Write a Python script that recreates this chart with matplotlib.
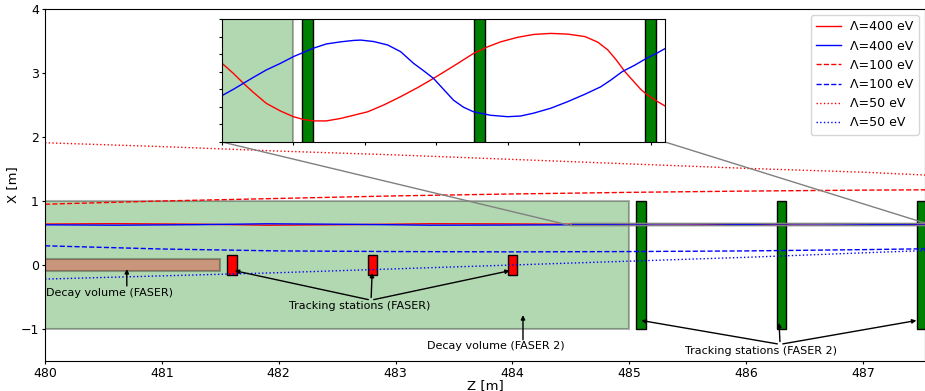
import numpy as np
import matplotlib
matplotlib.use("Agg")
import matplotlib.pyplot as plt
from matplotlib.patches import Rectangle

z_red_400 = [480.0, 480.6, 481.3, 481.9, 482.6, 483.3, 483.9,
             484.50, 484.58, 484.65, 484.72, 484.81, 484.91, 485.00, 485.07,
             485.14, 485.23, 485.33, 485.42, 485.52, 485.63, 485.75, 485.87,
             485.98, 486.12, 486.26, 486.36, 486.45, 486.57, 486.68, 486.80,
             486.92, 487.04, 487.13, 487.20, 487.26, 487.32, 487.39, 487.43,
             487.47, 487.54, 487.61]
x_red_400 = [0.640, 0.646, 0.638, 0.622, 0.630, 0.645, 0.643,
             0.6374, 0.6345, 0.6317, 0.6291, 0.6260, 0.6238, 0.6222, 0.6214,
             0.6210, 0.6210, 0.6217, 0.6226, 0.6236, 0.6255, 0.6279, 0.6305,
             0.6331, 0.6366, 0.6402, 0.6421, 0.6435, 0.6448, 0.6456, 0.6459,
             0.6457, 0.6450, 0.6434, 0.6412, 0.6383, 0.6350, 0.6318, 0.6300,
             0.6286, 0.6267, 0.6250]
z_blue_400 = [480.0, 480.6, 481.3, 481.9, 482.6, 483.3, 483.9,
              484.50, 484.58, 484.65, 484.72, 484.81, 484.91, 485.00, 485.07,
              485.14, 485.23, 485.33, 485.42, 485.47, 485.56, 485.66, 485.75,
              485.84, 485.91, 485.98, 486.05, 486.12, 486.19, 486.26, 486.38,
              486.50, 486.59, 486.68, 486.80, 486.92, 487.04, 487.15, 487.22,
              487.30, 487.39, 487.47, 487.54, 487.61]
x_blue_400 = [0.628, 0.622, 0.630, 0.644, 0.636, 0.622, 0.624,
              0.6282, 0.6300, 0.6317, 0.6334, 0.6355, 0.6374, 0.6393, 0.6405,
              0.6417, 0.6429, 0.6435, 0.6439, 0.6440, 0.6436, 0.6426, 0.6407,
              0.6374, 0.6353, 0.6331, 0.6300, 0.6269, 0.6249, 0.6236, 0.6226,
              0.6222, 0.6224, 0.6232, 0.6246, 0.6265, 0.6286, 0.6307, 0.6326,
              0.6350, 0.6369, 0.6388, 0.6402, 0.6418]

# dashed / dotted lines
z_other = [480.0, 481.0, 482.0, 483.0, 484.0, 485.0, 486.0, 487.0, 487.6]
x_red_100 = [0.95, 1.00, 1.04, 1.08, 1.11, 1.135, 1.155, 1.17, 1.175]
x_blue_100 = [0.30, 0.25, 0.22, 0.21, 0.205, 0.21, 0.22, 0.24, 0.255]
x_red_50 = [1.91, 1.85, 1.78, 1.72, 1.65, 1.58, 1.51, 1.45, 1.40]
x_blue_50 = [-0.22, -0.17, -0.12, -0.06, 0.0, 0.06, 0.12, 0.19, 0.23]

faser_stations = [481.6, 482.8, 484.0]
faser2_stations = [485.1, 486.3, 487.5]


def draw_detector(a):
    a.add_patch(Rectangle((480, -1), 5, 2, fc='green', ec='black', alpha=0.3, lw=1.5))
    a.add_patch(Rectangle((480, -0.1), 1.5, 0.2, fc='red', ec='black', alpha=0.3, lw=1.5))
    for s in faser_stations:
        a.add_patch(Rectangle((s - 0.04, -0.16), 0.08, 0.32, fc='red', ec='black', lw=1))
    for s in faser2_stations:
        a.add_patch(Rectangle((s - 0.04, -1), 0.08, 2, fc='green', ec='black', lw=1))


def draw_lines(a):
    a.plot(z_red_400, x_red_400, 'r-', lw=1, label='Λ=400 eV')
    a.plot(z_blue_400, x_blue_400, 'b-', lw=1, label='Λ=400 eV')
    a.plot(z_other, x_red_100, 'r--', lw=1, label='Λ=100 eV')
    a.plot(z_other, x_blue_100, 'b--', lw=1, label='Λ=100 eV')
    a.plot(z_other, x_red_50, 'r:', lw=1, label='Λ=50 eV')
    a.plot(z_other, x_blue_50, 'b:', lw=1, label='Λ=50 eV')


fig = plt.figure(figsize=(9.25, 3.91), dpi=100)
ax = fig.add_axes([45 / 925, 30 / 391, 880 / 925, 352 / 391])

draw_detector(ax)
draw_lines(ax)
ax.set_xlim(480, 487.53)
ax.set_ylim(-1.5, 4)
ax.tick_params(labelsize=9, length=2.5, pad=2)
ax.set_xlabel('Z [m]', fontsize=9.5, labelpad=-1)
ax.set_ylabel('X [m]', fontsize=9.5, labelpad=1)
ax.legend(loc='upper right', fontsize=9)

arrow = dict(arrowstyle='-|>', mutation_scale=6, lw=1, color='black')
fs = 8
ax.annotate('', xy=(480.7, -0.02), xytext=(480.7, -0.37), arrowprops=arrow)
ax.text(480.55, -0.44, 'Decay volume (FASER)', ha='center', va='center', fontsize=fs)

for s in faser_stations:
    ax.annotate('', xy=(s, -0.08), xytext=(482.79, -0.55), arrowprops=arrow)
ax.text(482.69, -0.64, 'Tracking stations (FASER)', ha='center', va='center', fontsize=fs)

ax.annotate('', xy=(484.09, -0.74), xytext=(484.09, -1.21), arrowprops=arrow)
ax.text(483.86, -1.26, 'Decay volume (FASER 2)', ha='center', va='center', fontsize=fs)

for s in faser2_stations:
    ax.annotate('', xy=(s - 0.02, -0.86), xytext=(486.29, -1.24), arrowprops=arrow)
ax.text(486.13, -1.35, 'Tracking stations (FASER 2)', ha='center', va='center', fontsize=fs)

# zoomed inset
axins = ax.inset_axes([177 / 880, 219 / 352, 443 / 880, 123 / 352])
draw_detector(axins)
draw_lines(axins)
axins.set_xlim(484.5, 487.6)
axins.set_ylim(0.615, 0.650)
axins.set_xticks(np.arange(484.5, 487.6, 0.5))
axins.set_yticks(np.arange(0.615, 0.6501, 0.005))
axins.set_xticklabels([])
axins.set_yticklabels([])
axins.tick_params(length=2.5)
ind = ax.indicate_inset_zoom(axins, edgecolor='gray', alpha=1, lw=1)
for c, vis in zip(ind.connectors, [True, False, True, False]):
    c.set_visible(vis)

fig.savefig('out.png', dpi=100)
